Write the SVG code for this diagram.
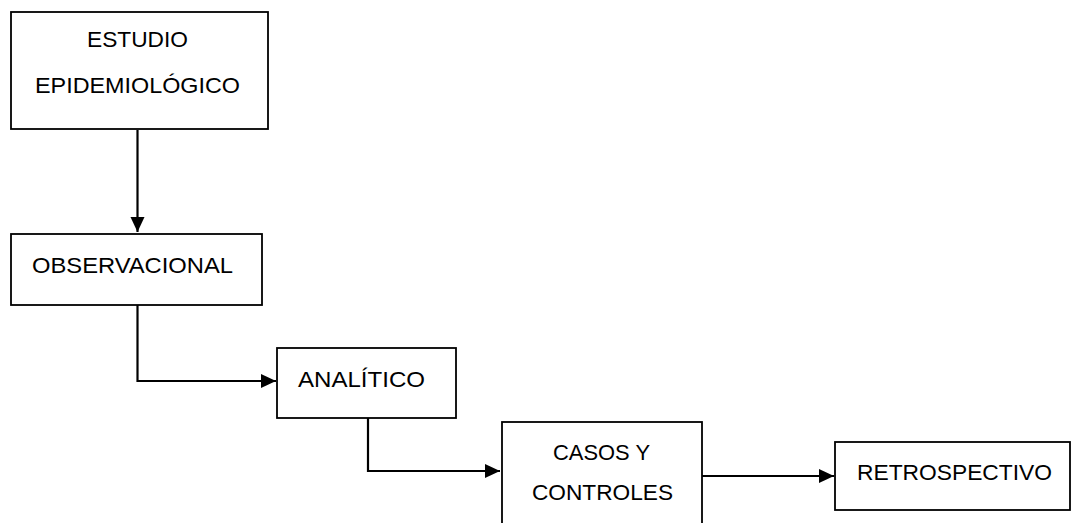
<svg xmlns="http://www.w3.org/2000/svg" width="1071" height="523" viewBox="0 0 1071 523">
<style>
.box{fill:#fff;stroke:#000;stroke-width:1.8}
.lbl{font-family:"Liberation Sans",Arial,sans-serif;font-size:22.5px;fill:#000}
.conn{fill:none;stroke:#000;stroke-width:2.2}
</style>
<defs>
<marker id="arr" markerUnits="userSpaceOnUse" markerWidth="16" markerHeight="16" refX="15" refY="8" orient="auto">
<path d="M0,1 L15,8 L0,15 Z" fill="#000"/>
</marker>
</defs>
<rect width="1071" height="523" fill="#fff"/>
<g id="connectors">
<path class="conn" d="M137.5,130 V232" marker-end="url(#arr)"/>
<path class="conn" d="M137.5,305 V381 H276" marker-end="url(#arr)"/>
<path class="conn" d="M368,418 V471 H500" marker-end="url(#arr)"/>
<path class="conn" d="M702,476 H834" marker-end="url(#arr)"/>
</g>
<g id="estudio">
<rect class="box" x="11" y="12" width="257" height="117"/>
<text class="lbl" x="87" y="47" textLength="101" lengthAdjust="spacingAndGlyphs">ESTUDIO</text>
<text class="lbl" x="35" y="93" textLength="205" lengthAdjust="spacingAndGlyphs">EPIDEMIOLÓGICO</text>
</g>
<g id="observacional">
<rect class="box" x="11" y="234" width="251" height="71"/>
<text class="lbl" x="32" y="273" textLength="201" lengthAdjust="spacingAndGlyphs">OBSERVACIONAL</text>
</g>
<g id="analitico">
<rect class="box" x="277" y="348" width="179" height="70"/>
<text class="lbl" x="298" y="387" textLength="127" lengthAdjust="spacingAndGlyphs">ANALÍTICO</text>
</g>
<g id="casos">
<rect class="box" x="502" y="422" width="200" height="110"/>
<text class="lbl" x="553" y="460" textLength="97" lengthAdjust="spacingAndGlyphs">CASOS Y</text>
<text class="lbl" x="532" y="500" textLength="141" lengthAdjust="spacingAndGlyphs">CONTROLES</text>
</g>
<g id="retrospectivo">
<rect class="box" x="835" y="442" width="235" height="68"/>
<text class="lbl" x="857" y="480" textLength="195" lengthAdjust="spacingAndGlyphs">RETROSPECTIVO</text>
</g>
</svg>
